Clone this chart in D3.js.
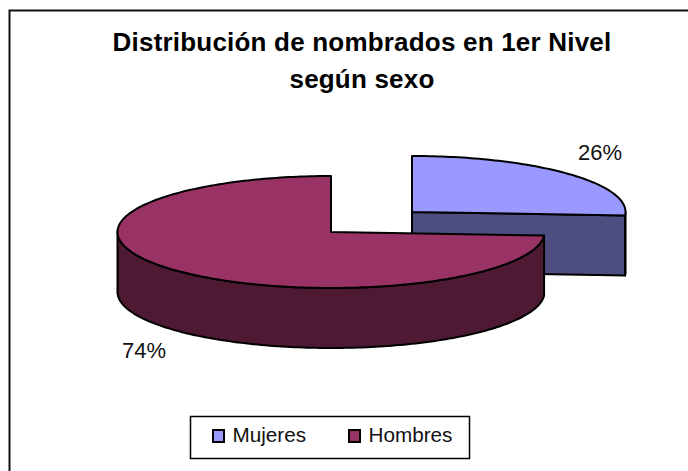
<!DOCTYPE html>
<html>
<head>
<meta charset="utf-8">
<script src="https://cdn.jsdelivr.net/npm/d3@7"></script>
<style>
  body { margin: 0; background: #fff; }
  svg { display: block; font-family: "Liberation Sans", Arial, sans-serif; }
  .edge { stroke: #000; stroke-width: 2; stroke-linejoin: round; }
</style>
</head>
<body>
<svg id="chart" width="688" height="471"></svg>
<script>
var titleLines = ["Distribución de nombrados en 1er Nivel", "según sexo"];
var categories = ["Mujeres", "Hombres"];
var shares = [26, 74];
var topColors = ["#9999ff", "#993366"];
var sideColors = ["#4d4d80", "#4d1933"];
var labelPos = [[600, 160], [144, 358]];

var svg = d3.select("#chart");

//frame round the chart, runs off the right and bottom of the picture
svg.append("path")
  .attr("d", "M9.5,480V10.5H700")
  .attr("fill", "none").attr("stroke", "#111").attr("stroke-width", 2);

//title
svg.selectAll(".title").data(titleLines).enter().append("text")
  .classed("title", true)
  .attr("x", 362)
  .attr("y", (d, i) => 51 + i * 37)
  .attr("text-anchor", "middle")
  .attr("font-size", 26)
  .attr("letter-spacing", 0.2)
  .attr("font-weight", "bold")
  .text(d => d);

//pie geometry, the ellipse is a circle of radius 1 squashed by the scales
var rx = 213.5, ry = 56, depth = 60;
var centers = [[412, 212], [331, 232]];
var pie = d3.pie().sort(null).value(d => d);
var slices = pie(shares);

var ellipsePoint = function(a, c, dy){
  return [c[0] + rx * Math.sin(a), c[1] - ry * Math.cos(a) + dy];
};

//points on the rim between two angles
var rim = function(a0, a1, c, dy){
  let n = Math.max(2, Math.ceil(Math.abs(a1 - a0) / 0.02));
  return d3.range(n + 1).map(i => ellipsePoint(a0 + (a1 - a0) * i / n, c, dy));
};

var line = d3.line();

slices.forEach(function(s, i){
  let c = centers[i];
  let g = svg.append("g");

  //first slice shows its cut face, drawn before the rim
  if(i === 0){
    let p = ellipsePoint(s.endAngle, c, 0);
    g.append("path")
      .classed("edge", true)
      .attr("fill", sideColors[i])
      .attr("d", line([c, p, [p[0], p[1] + depth], [c[0], c[1] + depth]]) + "Z");
  }

  //outer wall, only the part facing the viewer
  let a0 = Math.max(s.startAngle, Math.PI / 2);
  let a1 = Math.min(s.endAngle, Math.PI * 1.5);
  let front = rim(a0, a1, c, 0);
  let back = rim(a1, a0, c, depth);
  g.append("path")
    .classed("edge", true)
    .attr("fill", i === 0 ? "#000" : sideColors[i])
    .attr("d", line(front.concat(back)) + "Z");

  //top face
  g.append("path")
    .classed("edge", true)
    .attr("fill", topColors[i])
    .attr("d", line([c].concat(rim(s.startAngle, s.endAngle, c, 0))) + "Z");
});

//percent labels
svg.selectAll(".pct").data(shares).enter().append("text")
  .classed("pct", true)
  .attr("x", (d, i) => labelPos[i][0])
  .attr("y", (d, i) => labelPos[i][1])
  .attr("text-anchor", "middle")
  .attr("font-size", 22)
  .attr("fill", "#111")
  .text(d => d + "%");

//legend
var legend = svg.append("g");
legend.append("rect")
  .attr("x", 190.5).attr("y", 416.5)
  .attr("width", 279).attr("height", 42)
  .attr("fill", "#fff").attr("stroke", "#000").attr("stroke-width", 1.5);

var legendX = d3.scaleOrdinal().domain(categories).range([212, 348]);
categories.forEach(function(name, i){
  legend.append("rect")
    .attr("x", legendX(name) + 1).attr("y", 430)
    .attr("width", 11).attr("height", 12)
    .attr("fill", topColors[i])
    .attr("stroke", "#000").attr("stroke-width", 2);
  legend.append("text")
    .attr("x", legendX(name) + 20.5)
    .attr("y", 442)
    .attr("font-size", 20.7)
    .attr("fill", "#111")
    .text(name);
});
</script>
</body>
</html>
